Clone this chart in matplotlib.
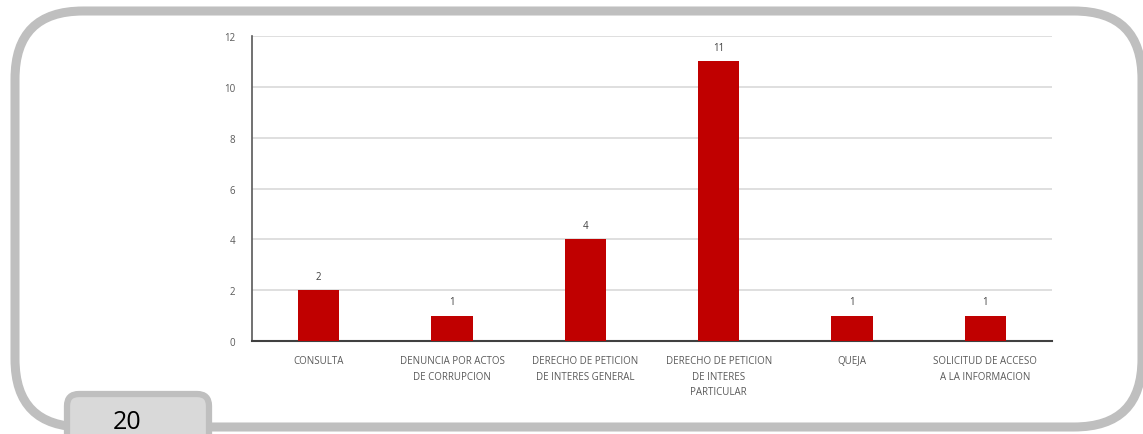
import matplotlib
matplotlib.use("Agg")
import matplotlib.pyplot as plt
from matplotlib.patches import FancyBboxPatch

categories = ["CONSULTA", "DENUNCIA POR ACTOS\nDE CORRUPCION",
              "DERECHO DE PETICION\nDE INTERES GENERAL",
              "DERECHO DE PETICION\nDE INTERES\nPARTICULAR",
              "QUEJA", "SOLICITUD DE ACCESO\nA LA INFORMACION"]
values = [2, 1, 4, 11, 1, 1]
yticks = [0, 2, 4, 6, 8, 10, 12]
page_label = "20"

W, H = 1143, 435
fig = plt.figure(figsize=(W / 100, H / 100), dpi=100)
fig.patch.set_facecolor("white")

# background frame in pixel coordinates
bg = fig.add_axes([0, 0, 1, 1])
bg.set_xlim(0, W)
bg.set_ylim(H, 0)
bg.axis("off")
frame = FancyBboxPatch((15, 12), 1127, 416, boxstyle="round,pad=0,rounding_size=68",
                       fc="none", ec="#BFBFBF", lw=6.5, zorder=1)
bg.add_patch(frame)
tab = FancyBboxPatch((67, 395), 142, 60, boxstyle="round,pad=0,rounding_size=12",
                     fc="#D9D9D9", ec="#BFBFBF", lw=4.5, zorder=2)
bg.add_patch(tab)
bg.text(127, 423, page_label, ha="center", va="center", fontsize=18,
        color="black", family="Open Sans", zorder=3)

# chart
ax = fig.add_axes([252 / W, 93 / H, 800 / W, 305 / H])
ax.set_facecolor("none")
x = range(len(categories))
bars = ax.bar(x, values, width=0.31, color="#C00000", zorder=3)
ax.set_xlim(-0.5, len(categories) - 0.5)
ax.set_ylim(0, 12)
ax.set_yticks(yticks)
ax.set_yticklabels([str(t) for t in yticks])
ax.set_xticks(list(x))
ax.set_xticklabels(categories, linespacing=1.6)
ax.tick_params(axis="both", length=0, labelsize=7, colors="#595959")
ax.tick_params(axis="y", pad=12)
ax.tick_params(axis="x", pad=10)
for lbl in ax.get_xticklabels() + ax.get_yticklabels():
    lbl.set_family("Open Sans")
ax.grid(axis="y", color="#D9D9D9", lw=1.2, zorder=0)
for s in ["top", "right"]:
    ax.spines[s].set_visible(False)
ax.spines["left"].set_color("#595959")
ax.spines["left"].set_linewidth(1.2)
ax.spines["bottom"].set_color("#404040")
ax.spines["bottom"].set_linewidth(1.5)
for b, v in zip(bars, values):
    ax.annotate(str(v), (b.get_x() + b.get_width() / 2, v), xytext=(0, 6),
                textcoords="offset points", ha="center", va="bottom",
                fontsize=7, color="#404040", family="Open Sans")

fig.savefig("out.png", dpi=100)
